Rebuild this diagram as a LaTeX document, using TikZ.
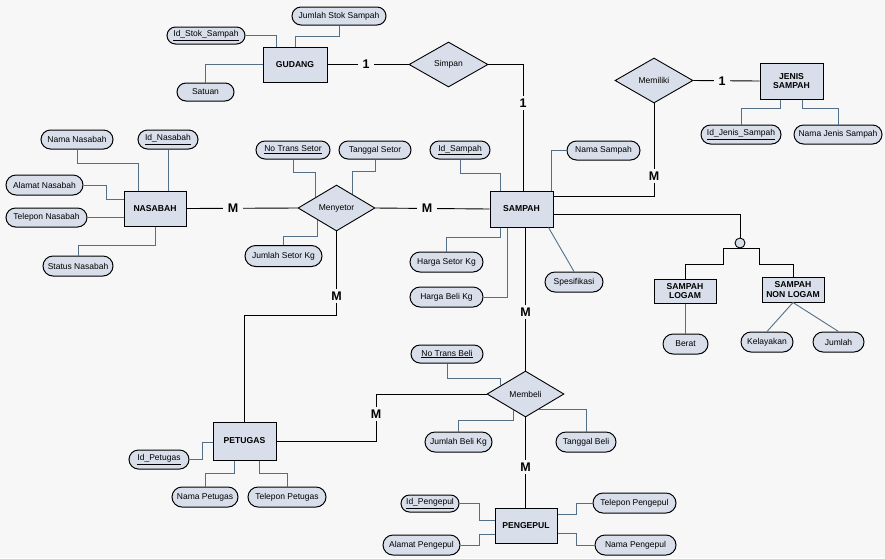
\documentclass[tikz,border=0pt]{standalone}
\usepackage{fontspec}
\setmainfont{Liberation Sans}
\usetikzlibrary{shapes.geometric,shapes.misc,calc}
\definecolor{bg}{RGB}{247,247,247}
\definecolor{boxfill}{RGB}{216,222,234}
\definecolor{attrline}{RGB}{84,112,136}
\tikzset{
  ent/.style={draw=black,line width=1pt,fill=boxfill,inner sep=0pt,align=center,font=\fontsize{8.6}{9.5}\selectfont\bfseries},
  relshape/.style={diamond,aspect=1.7,draw=black,line width=0.9pt,fill=boxfill,inner sep=0pt,font=\fontsize{8.5}{10}\selectfont},
  attrbox/.style={rounded rectangle,draw=black,line width=1pt,fill=boxfill,inner sep=0pt,font=\fontsize{8.5}{10}\selectfont},
  rel/.style={draw=black,line width=0.9pt},
  attr/.style={draw=attrline,line width=0.9pt},
  card/.style={fill=bg,inner xsep=5pt,inner ysep=3pt,font=\fontsize{12.5}{13}\selectfont\bfseries},
  isacirc/.style={circle,draw=black,line width=0.9pt,fill=boxfill,minimum size=10pt,inner sep=0pt}
}
\begin{document}
\begin{tikzpicture}[x=1pt,y=-1pt]
\fill[bg] (0,0) rectangle (885,558);
\useasboundingbox (0,0) rectangle (885,558);
% entities
\node[ent,minimum width=64pt,minimum height=35pt] (gud) at (295,64.5) {GUDANG};
\node[ent,minimum width=63pt,minimum height=36pt] (jenis) at (791.5,81) {JENIS\\SAMPAH};
\node[ent,minimum width=63pt,minimum height=36pt] (sampah) at (521.5,209) {SAMPAH};
\node[ent,minimum width=62pt,minimum height=35pt] (nasabah) at (155,208.5) {NASABAH};
\node[ent,minimum width=63pt,minimum height=38pt] (petugas) at (244.5,441) {PETUGAS};
\node[ent,minimum width=62pt,minimum height=35pt] (pengepul) at (526,525.5) {PENGEPUL};
\node[ent,minimum width=62pt,minimum height=24pt] (logam) at (685,291) {SAMPAH\\LOGAM};
\node[ent,minimum width=62pt,minimum height=25pt] (nonlogam) at (793,289.5) {SAMPAH\\NON LOGAM};
% relationships
\node[relshape,minimum width=79pt,minimum height=45pt] (simpan) at (448.5,64.5) {Simpan};
\node[relshape,minimum width=78pt,minimum height=45pt] (memiliki) at (654,80.5) {Memiliki};
\node[relshape,minimum width=77pt,minimum height=46pt] (menyetor) at (336.5,208) {Menyetor};
\node[relshape,minimum width=77pt,minimum height=46pt] (membeli) at (525.5,394) {Membeli};
\node[isacirc] (isa) at (740,243) {};
% attributes
\node[attrbox,minimum width=78pt,minimum height=17pt] (idstok) at (206,35.5) {\underline{Id\_Stok\_Sampah}};
\node[attrbox,minimum width=94pt,minimum height=18pt] (jmlstok) at (339,16) {Jumlah Stok Sampah};
\node[attrbox,minimum width=57pt,minimum height=18pt] (satuan) at (205.5,92) {Satuan};
\node[attrbox,minimum width=80pt,minimum height=19pt] (idjenis) at (741,134.5) {\underline{Id\_Jenis\_Sampah}};
\node[attrbox,minimum width=88pt,minimum height=19pt] (namajenis) at (838,134.5) {Nama Jenis Sampah};
\node[attrbox,minimum width=73pt,minimum height=19pt] (namasampah) at (603.5,150.5) {Nama Sampah};
\node[attrbox,minimum width=60pt,minimum height=18pt] (idsampah) at (460,150) {\underline{Id\_Sampah}};
\node[attrbox,minimum width=74pt,minimum height=18pt] (notranssetor) at (293,150) {\underline{No Trans Setor}};
\node[attrbox,minimum width=72pt,minimum height=18pt] (tglsetor) at (375,150) {Tanggal Setor};
\node[attrbox,minimum width=77pt,minimum height=21pt] (jmlsetor) at (283.5,256) {Jumlah Setor Kg};
\node[attrbox,minimum width=72pt,minimum height=19pt] (namanas) at (77,139.5) {Nama Nasabah};
\node[attrbox,minimum width=60pt,minimum height=19pt] (idnas) at (168,139.5) {\underline{Id\_Nasabah}};
\node[attrbox,minimum width=77pt,minimum height=20pt] (alamatnas) at (44.5,185) {Alamat Nasabah};
\node[attrbox,minimum width=81pt,minimum height=19pt] (telpnas) at (46.5,217.5) {Telepon Nasabah};
\node[attrbox,minimum width=70pt,minimum height=20pt] (statusnas) at (78,266) {Status Nasabah};
\node[attrbox,minimum width=73pt,minimum height=20pt] (hargasetor) at (446.5,262) {Harga Setor Kg};
\node[attrbox,minimum width=73pt,minimum height=20pt] (hargabeli) at (446.5,297) {Harga Beli Kg};
\node[attrbox,minimum width=58pt,minimum height=20pt] (spesifikasi) at (574,282) {Spesifikasi};
\node[attrbox,minimum width=45pt,minimum height=20pt] (berat) at (685.5,344) {Berat};
\node[attrbox,minimum width=52pt,minimum height=20pt] (kelayakan) at (767,342) {Kelayakan};
\node[attrbox,minimum width=51pt,minimum height=20pt] (jumlah) at (838.5,342) {Jumlah};
\node[attrbox,minimum width=60pt,minimum height=19pt] (idpetugas) at (159,459.5) {\underline{Id\_Petugas}};
\node[attrbox,minimum width=66pt,minimum height=20pt] (namapetugas) at (205,497) {Nama Petugas};
\node[attrbox,minimum width=78pt,minimum height=20pt] (telppetugas) at (287,497) {Telepon Petugas};
\node[attrbox,minimum width=72pt,minimum height=18pt] (notransbeli) at (447,354) {\underline{No Trans Beli}};
\node[attrbox,minimum width=67pt,minimum height=20pt] (jmlbeli) at (458.5,442) {Jumlah Beli Kg};
\node[attrbox,minimum width=60pt,minimum height=20pt] (tglbeli) at (586,442) {Tanggal Beli};
\node[attrbox,minimum width=58pt,minimum height=17pt] (idpengepul) at (430,503.5) {\underline{Id\_Pengepul}};
\node[attrbox,minimum width=77pt,minimum height=20pt] (alamatpengepul) at (421.5,545) {Alamat Pengepul};
\node[attrbox,minimum width=83pt,minimum height=20pt] (telppengepul) at (634.5,503) {Telepon Pengepul};
\node[attrbox,minimum width=81pt,minimum height=20pt] (namapengepul) at (635.5,545) {Nama Pengepul};
% relationship connectors
\draw[rel] (gud.east) -- (simpan.west);
\draw[rel] (simpan.east) -| ($(sampah.north)+(1.5,0)$);
\draw[rel] (memiliki.east) -- (jenis.west);
\draw[rel] (memiliki.south) |- ($(sampah.east)+(0,-13)$);
\draw[rel] ($(sampah.east)+(0,5)$) -| (isa.north);
\draw[rel] (logam.north) |- (723,264) |- (isa.south) -| (759,264) -| (nonlogam.north);
\draw[rel] (nasabah.east) -- (menyetor.west);
\draw[rel] (menyetor.east) -- (sampah.west);
\draw[rel] (menyetor.south) -- ++(0,84) -| (petugas.north);
\draw[rel] (petugas.east) -- ++(100,0) |- (membeli.west);
\draw[rel] (membeli.north |- sampah.south) -- (membeli.north);
\draw[rel] (membeli.south) -- (membeli.south |- pengepul.north);
% attribute connectors
\draw[attr] (idstok.east) -| ($(gud.north west)+(14,0)$);
\draw[attr] (gud.north) -- ++(0,-10) -| (jmlstok.south);
\draw[attr] (gud.west) -| (satuan.north);
\draw[attr] ($(jenis.south)+(-11.5,0)$) -- ++(0,9) -| (idjenis.north);
\draw[attr] ($(jenis.south)+(10.5,0)$) -- ++(0,9) -| (namajenis.north);
\draw[attr] (namasampah.west) -| ($(sampah.north east)+(-2,0)$);
\draw[attr] (idsampah.south) -- ++(0,14) -| ($(sampah.north west)+(11,0)$);
\draw[attr] (notranssetor.south) -- ++(0,13) -| ($(menyetor.west)!0.47!(menyetor.north)$);
\draw[attr] (tglsetor.south) -- ++(0,12) -| ($(menyetor.north)!0.4!(menyetor.east)$);
\draw[attr] ($(menyetor.west)!0.5!(menyetor.south)$) -- ++(0,17) -| (jmlsetor.north);
\draw[attr] (namanas.south) -- ++(0,14) -| ($(nasabah.north west)+(15,0)$);
\draw[attr] (idnas.south) -- (idnas.south |- nasabah.north);
\draw[attr] (alamatnas.east) -- ++(23,0) |- ($(nasabah.west)+(0,-9.5)$);
\draw[attr] (telpnas.east) -- (telpnas.east -| nasabah.west);
\draw[attr] (nasabah.south) -- ++(0,19) -| (statusnas.north);
\draw[attr] ($(sampah.south west)+(11,0)$) -- ++(0,10) -| (hargasetor.north);
\draw[attr] (hargabeli.east) -| ($(sampah.south west)+(18,0)$);
\draw[attr] ($(sampah.south east)+(-5,0)$) -- (spesifikasi.north);
\draw[attr] (logam.south) -- (logam.south |- berat.north);
\draw[attr] (nonlogam.south) -- (kelayakan.north);
\draw[attr] (nonlogam.south) -- (jumlah.north);
\draw[attr] (idpetugas.east) -- ++(13,0) |- ($(petugas.west)+(0,1)$);
\draw[attr] ($(petugas.south)+(-10.5,0)$) -- ++(0,13) -| (namapetugas.north);
\draw[attr] ($(petugas.south)+(14.5,0)$) -- ++(0,13) -| (telppetugas.north);
\draw[attr] (notransbeli.south) -- ++(0,15) -| ($(membeli.west)!0.36!(membeli.north)$);
\draw[attr] ($(membeli.west)!0.7!(membeli.south)$) -- ++(0,10) -| (jmlbeli.north);
\draw[attr] ($(membeli.south)!0.35!(membeli.east)$) -| (tglbeli.north);
\draw[attr] (idpengepul.east) -- ++(20,0) |- ($(pengepul.west)+(0,-5.5)$);
\draw[attr] (alamatpengepul.east) -- ++(19,0) |- ($(pengepul.west)+(0,8.5)$);
\draw[attr] ($(pengepul.east)+(0,-11.5)$) -- ++(19,0) |- (telppengepul.west);
\draw[attr] ($(pengepul.east)+(0,7.5)$) -- ++(19,0) |- (namapengepul.west);
% cardinalities
\node[card] (c1) at (366,64.5) {1};
\node[card] (c2) at (523,103) {1};
\node[card] (c3) at (722,81) {1};
\node[card] (c4) at (654,176) {M};
\node[card] (c5) at (233,208.5) {M};
\node[card] (c6) at (427,208.5) {M};
\node[card] (c7) at (336.5,296) {M};
\node[card] (c8) at (376,414) {M};
\node[card] (c9) at (525.5,312) {M};
\node[card] (c10) at (525.5,467) {M};
\end{tikzpicture}
\end{document}
